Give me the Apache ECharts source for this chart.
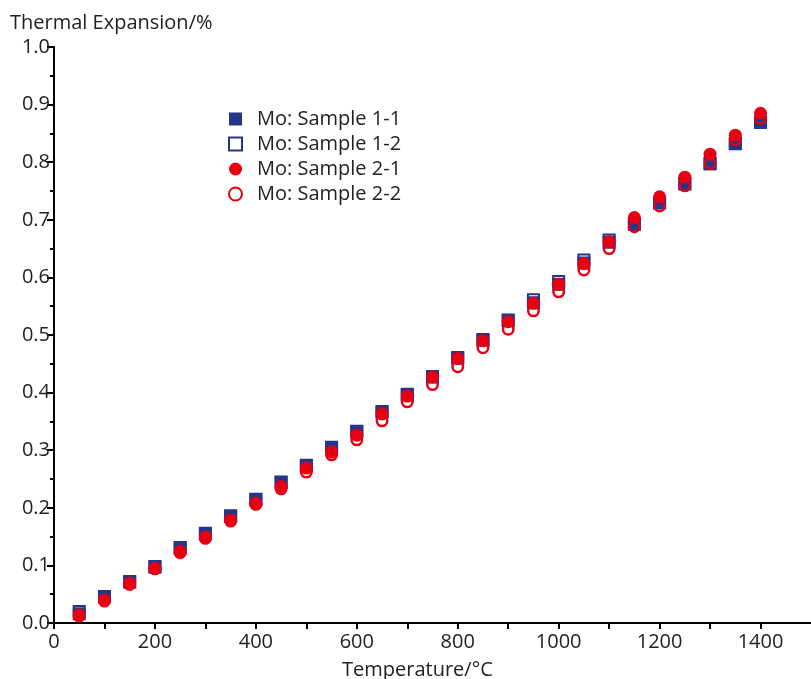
<!DOCTYPE html>
<html>
<head>
<meta charset="utf-8">
<script src="https://cdn.jsdelivr.net/npm/echarts@6/dist/echarts.min.js"></script>
<style>html,body{margin:0;padding:0;background:#fff}#c{width:811px;height:679px}</style>
</head>
<body>
<div id="c"></div>
<script>
const temps = [50,100,150,200,250,300,350,400,450,500,550,600,650,700,750,800,850,900,950,1000,1050,1100,1150,1200,1250,1300,1350,1400];
const sample11 = [0.016,0.045,0.071,0.097,0.130,0.155,0.185,0.214,0.244,0.273,0.304,0.332,0.366,0.396,0.427,0.460,0.491,0.525,0.556,0.588,0.625,0.661,0.692,0.729,0.762,0.797,0.832,0.869];
const sample12 = [0.020,0.046,0.072,0.098,0.131,0.156,0.186,0.215,0.245,0.274,0.305,0.333,0.367,0.397,0.428,0.461,0.492,0.526,0.561,0.593,0.630,0.665,0.693,0.730,0.763,0.798,0.833,0.870];
const sample21 = [0.014,0.040,0.069,0.095,0.124,0.149,0.179,0.208,0.237,0.269,0.297,0.326,0.363,0.394,0.427,0.459,0.490,0.523,0.555,0.588,0.624,0.662,0.704,0.740,0.774,0.814,0.847,0.885];
const sample22 = [0.012,0.038,0.067,0.094,0.122,0.147,0.177,0.206,0.233,0.262,0.292,0.318,0.351,0.384,0.414,0.445,0.478,0.510,0.542,0.575,0.613,0.650,0.688,0.724,0.759,0.798,0.839,0.876];
const seriesNames = ['Mo: Sample 1-1','Mo: Sample 1-2','Mo: Sample 2-1','Mo: Sample 2-2'];
const yTitle = 'Thermal Expansion/%';
const xTitle = 'Temperature/°C';

const NAVY = '#25358a', RED = '#e60012';
const FONT = '"Open Sans", sans-serif';
const pairs = arr => temps.map((t, i) => [t, arr[i]]);

const chart = echarts.init(document.getElementById('c'), null, {renderer: 'canvas'});
chart.setOption({
  animation: false,
  backgroundColor: '#fff',
  textStyle: {fontFamily: FONT},
  title: [
    {text: yTitle, left: 10, top: 8, padding: [5, 0, 5, 0], textStyle: {fontFamily: FONT, fontSize: 20, fontWeight: 'normal', color: '#222'}},
    {text: xTitle, left: 342, top: 655, padding: [5, 0, 5, 0], textStyle: {fontFamily: FONT, fontSize: 20, fontWeight: 'normal', color: '#222'}}
  ],
  grid: {left: 54, right: -6, top: 47, bottom: 56, containLabel: false},
  legend: {
    orient: 'vertical', left: 223, top: 104,
    itemWidth: 13, itemHeight: 13, itemGap: 5,
    textStyle: {fontFamily: FONT, fontSize: 20, color: '#222', padding: [0, 0, 0, 10]},
    data: seriesNames
  },
  xAxis: {
    type: 'value', min: 0, max: 1500, interval: 100,
    axisLine: {show: true, lineStyle: {color: '#000', width: 2}},
    axisTick: {show: true, length: 6, inside: false, lineStyle: {color: '#000', width: 2}},
    axisLabel: {interval: 1, showMaxLabel: false, fontFamily: FONT, fontSize: 20, color: '#222', margin: 9,
      formatter: v => (v % 200 === 0 ? String(v) : '')},
    splitLine: {show: false}
  },
  yAxis: {
    type: 'value', min: 0, max: 1.0, interval: 0.1,
    axisLine: {show: true, lineStyle: {color: '#000', width: 2}},
    axisTick: {show: true, length: 7, lineStyle: {color: '#000', width: 2}},
    minorTick: {show: true, splitNumber: 2, length: 4, lineStyle: {color: '#000', width: 2}},
    axisLabel: {fontFamily: FONT, fontSize: 20, color: '#222', margin: 4, formatter: v => v.toFixed(1)},
    splitLine: {show: false}
  },
  series: [
    {name: seriesNames[0], type: 'scatter', symbol: 'rect', symbolSize: 13, z: 3,
      itemStyle: {color: NAVY, opacity: 1}, data: pairs(sample11)},
    {name: seriesNames[1], type: 'scatter', symbol: 'rect', symbolSize: 11, z: 2,
      itemStyle: {color: '#fff', borderColor: NAVY, borderWidth: 2, opacity: 1}, data: pairs(sample12)},
    {name: seriesNames[2], type: 'scatter', symbol: 'circle', symbolSize: 13, z: 5,
      itemStyle: {color: RED, opacity: 1}, data: pairs(sample21)},
    {name: seriesNames[3], type: 'scatter', symbol: 'circle', symbolSize: 10.5, z: 4,
      itemStyle: {color: 'rgba(255,255,255,0)', borderColor: RED, borderWidth: 2.5, opacity: 1}, data: pairs(sample22)}
  ]
});
</script>
</body>
</html>
